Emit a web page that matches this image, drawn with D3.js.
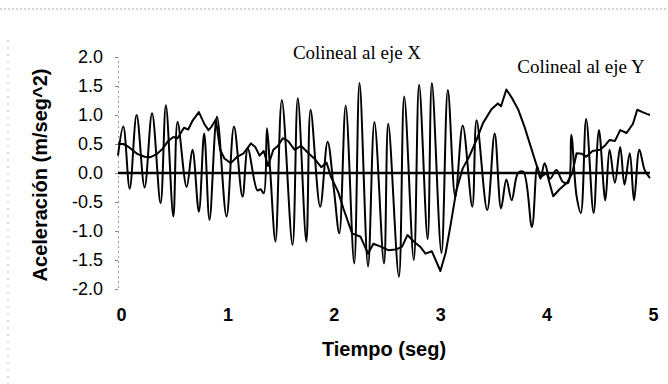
<!DOCTYPE html>
<html>
	<head>
		<style>
			body {
				margin: 0;
				background: #fff;
			}

			#chart {
				display: block;
			}
		</style>
	</head>
	<body>
		<svg id="chart" width="668" height="384"></svg>
		<script src="https://cdnjs.cloudflare.com/ajax/libs/d3/7.8.5/d3.min.js"></script>

		<script>
			// high frequency record
			let timeX = [
				0, 0.05, 0.11, 0.175, 0.25, 0.32, 0.4, 0.45, 0.52, 0.56,
				0.645, 0.7, 0.76, 0.81, 0.86, 0.93, 1.02, 1.09, 1.17, 1.22,
				1.31, 1.34, 1.37, 1.4, 1.43, 1.48, 1.54, 1.64, 1.69, 1.77,
				1.81, 1.9, 1.97, 2.03, 2.08, 2.14, 2.22, 2.27, 2.35, 2.41,
				2.5, 2.54, 2.64, 2.69, 2.78, 2.83, 2.91, 2.95, 3.04, 3.1,
				3.17, 3.24, 3.33, 3.37, 3.47, 3.54, 3.6, 3.65, 3.7, 3.76,
				3.81, 3.89, 3.94, 3.97, 4.01, 4.06, 4.12, 4.18, 4.23, 4.26,
				4.31, 4.35, 4.4, 4.47, 4.52, 4.58, 4.62, 4.67, 4.72, 4.76,
				4.81, 4.85, 4.9, 4.95, 5,
			];
			let accX = [
				0.3, 0.8, -0.27, 1.0, -0.25, 1.03, -0.52, 1.17, -0.75, 0.88,
				-0.24, 0.4, -0.67, 0.68, -0.81, 0.97, -0.75, 0.8, -0.41, 0.42,
				-0.3, -0.28, -0.35, 0.77, 0.05, -1.18, 1.26, -1.24, 1.29, -1.18,
				1.09, -0.58, 0.54, -0.3, -1.04, 1.16, -1.56, 1.55, -1.61, 0.88,
				-1.56, 0.85, -1.79, 1.32, -1.5, 1.52, -1.14, 1.55, -1.38, 1.43,
				-0.41, 0.82, -0.58, 0.91, -0.64, 0.68, -0.61, -0.11, -0.47, 0.0,
				0.02, -0.93, 0.11, -0.1, 0.17, -0.1, 0.05, -0.15, -0.17, 0.66,
				-0.4, -0.69, 0.93, -0.69, 0.74, -0.47, 0.4, -0.17, 0.45, -0.2,
				0.34, -0.47, 0.4, 0.05, -0.09,
			];

			// slow record
			let timeY = [
				0, 0.05, 0.1, 0.18, 0.25, 0.3, 0.36, 0.42, 0.47, 0.52,
				0.56, 0.62, 0.66, 0.7, 0.76, 0.81, 0.85, 0.88, 0.92, 0.96,
				1.0, 1.06, 1.12, 1.18, 1.25, 1.29, 1.33, 1.37, 1.41, 1.46,
				1.5, 1.55, 1.6, 1.66, 1.72, 1.79, 1.85, 1.91, 1.96, 2.0,
				2.07, 2.12, 2.2, 2.28, 2.35, 2.4, 2.47, 2.54, 2.61, 2.67,
				2.72, 2.78, 2.84, 2.89, 2.95, 3.03, 3.08, 3.13, 3.18, 3.24,
				3.3, 3.37, 3.43, 3.51, 3.57, 3.6, 3.65, 3.7, 3.76, 3.82,
				3.88, 3.94, 3.97, 4.03, 4.09, 4.15, 4.22, 4.27, 4.31, 4.36,
				4.4, 4.46, 4.53, 4.58, 4.62, 4.67, 4.72, 4.78, 4.84, 4.88,
				4.93, 4.97, 5,
			];
			let accY = [
				0.5, 0.5, 0.45, 0.33, 0.28, 0.27, 0.32, 0.42, 0.55, 0.62,
				0.6, 0.78, 0.75, 0.9, 1.05, 0.85, 0.74, 0.8, 0.92, 0.4,
				0.25, 0.17, 0.28, 0.34, 0.51, 0.45, 0.3, 0.38, 0.12, 0.4,
				0.46, 0.6, 0.55, 0.4, 0.47, 0.34, 0.24, 0.1, 0.18, -0.06,
				-0.33, -0.62, -1.04, -1.1, -1.39, -1.22, -1.27, -1.33, -1.32, -1.27,
				-1.07, -1.18, -1.27, -1.39, -1.35, -1.69, -1.37, -0.85, -0.3, 0.08,
				0.28, 0.57, 0.86, 1.1, 1.2, 1.15, 1.44, 1.3, 1.1, 0.8,
				0.45, 0.1, -0.07, 0.0, -0.4, -0.28, -0.17, 0.0, 0.34, 0.33,
				0.28, 0.38, 0.4, 0.48, 0.57, 0.55, 0.74, 0.69, 0.85, 1.09,
				1.05, 1.02, 1.0,
			];

			let xTicks = [0, 1, 2, 3, 4, 5];
			let yTicks = [2, 1.5, 1, 0.5, 0, -0.5, -1, -1.5, -2];

			let svg = d3.select('#chart');

			let x = d3.scaleLinear().domain([0, 5]).range([118, 650]);
			let y = d3.scaleLinear().domain([-2, 2]).range([289, 57]);

			// scan border, faint and dotted
			svg.append('line')
				.attr('x1', 0).attr('x2', 668)
				.attr('y1', 9).attr('y2', 9)
				.attr('stroke', '#aaa')
				.attr('stroke-dasharray', '2,2');
			svg.append('line')
				.attr('x1', 8).attr('x2', 8)
				.attr('y1', 40).attr('y2', 384)
				.attr('stroke', '#bbb')
				.attr('stroke-dasharray', '2,5');

			// y axis
			let yAxis = svg.append('g')
				.attr('transform', 'translate(118,0)')
				.call(
					d3.axisLeft(y)
						.tickValues(yTicks)
						.tickSize(3)
						.tickPadding(12)
				);
			yAxis.select('.domain')
				.attr('stroke', '#999')
				.attr('stroke-dasharray', '2,3');
			yAxis.selectAll('.tick line').attr('stroke', '#888');
			yAxis.selectAll('.tick text')
				.attr('fill', '#000')
				.style('font-family', 'Liberation Sans, Arial, sans-serif')
				.style('font-size', '18px')
				.text(d => d3.format('.1f')(d).replace('−', '-'));

			// x axis labels only
			let xAxis = svg.append('g')
				.attr('transform', 'translate(3,308)')
				.call(
					d3.axisBottom(x)
						.tickValues(xTicks)
						.tickSize(0)
						.tickPadding(0)
						.tickFormat(d3.format('d'))
				);
			xAxis.select('.domain').remove();
			xAxis.selectAll('.tick text')
				.attr('fill', '#000')
				.style('font-family', 'Liberation Sans, Arial, sans-serif')
				.style('font-size', '18px')
				.style('font-weight', 'bold');

			// zero line
			svg.append('line')
				.attr('x1', x(0)).attr('x2', x(5))
				.attr('y1', y(0)).attr('y2', y(0))
				.attr('stroke', '#000')
				.attr('stroke-width', 2.5);

			let lineX = d3.line()
				.x((d, i) => x(timeX[i]))
				.y(d => y(d))
				.curve(d3.curveCatmullRom.alpha(0.5));
			let lineY = d3.line()
				.x((d, i) => x(timeY[i]))
				.y(d => y(d));

			svg.append('path')
				.attr('d', lineX(accX))
				.attr('fill', 'none')
				.attr('stroke', '#000')
				.attr('stroke-width', 2);
			svg.append('path')
				.attr('d', lineY(accY))
				.attr('fill', 'none')
				.attr('stroke', '#000')
				.attr('stroke-width', 2)
				.attr('stroke-linejoin', 'round');

			// axis titles
			svg.append('text')
				.attr('x', 384)
				.attr('y', 356)
				.attr('text-anchor', 'middle')
				.style('font-family', 'Liberation Sans, Arial, sans-serif')
				.style('font-size', '20px')
				.style('font-weight', 'bold')
				.text('Tiempo (seg)');
			svg.append('text')
				.attr('transform', 'translate(47,175) rotate(-90)')
				.attr('text-anchor', 'middle')
				.style('font-family', 'Liberation Sans, Arial, sans-serif')
				.style('font-size', '20px')
				.style('font-weight', 'bold')
				.text('Aceleración (m/seg^2)');

			// series notes
			svg.append('text')
				.attr('x', 357)
				.attr('y', 59)
				.attr('text-anchor', 'middle')
				.style('font-family', 'Liberation Serif, Times New Roman, serif')
				.style('font-size', '19px')
				.text('Colineal al eje X');
			svg.append('text')
				.attr('x', 581)
				.attr('y', 73)
				.attr('text-anchor', 'middle')
				.style('font-family', 'Liberation Serif, Times New Roman, serif')
				.style('font-size', '19px')
				.text('Colineal al eje Y');
		</script>
	</body>
</html>
